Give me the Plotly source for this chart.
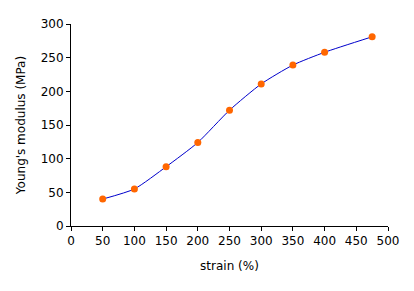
import plotly.graph_objects as go

strain = [50, 100, 150, 200, 250, 300, 350, 400, 475]
modulus = [40, 55, 88, 124, 172, 211, 239, 258, 281]

fig = go.Figure()
fig.add_trace(go.Scatter(
    x=strain, y=modulus, mode="lines+markers",
    line=dict(color="#0000CC", width=1, shape="spline", smoothing=0.6),
    marker=dict(color="#FF6600", size=7),
    showlegend=False,
))

axis_common = dict(
    showgrid=False, zeroline=False, showline=True, linecolor="black", linewidth=1,
    ticks="outside", ticklen=4, tickcolor="black", tickwidth=1,
    tickfont=dict(family="DejaVu Sans", size=12, color="black"),
)
fig.update_layout(
    width=414, height=291,
    margin=dict(l=71, r=26, t=24, b=65),
    paper_bgcolor="white", plot_bgcolor="white",
    xaxis=dict(range=[0, 500], dtick=50, title=dict(text="strain (%)", standoff=14,
               font=dict(family="DejaVu Sans", size=12, color="black")), **axis_common),
    yaxis=dict(range=[0, 300], dtick=50, title=dict(text="Young's modulus (MPa)", standoff=12,
               font=dict(family="DejaVu Sans", size=12, color="black")), **axis_common),
)
fig.write_html("out.html")
